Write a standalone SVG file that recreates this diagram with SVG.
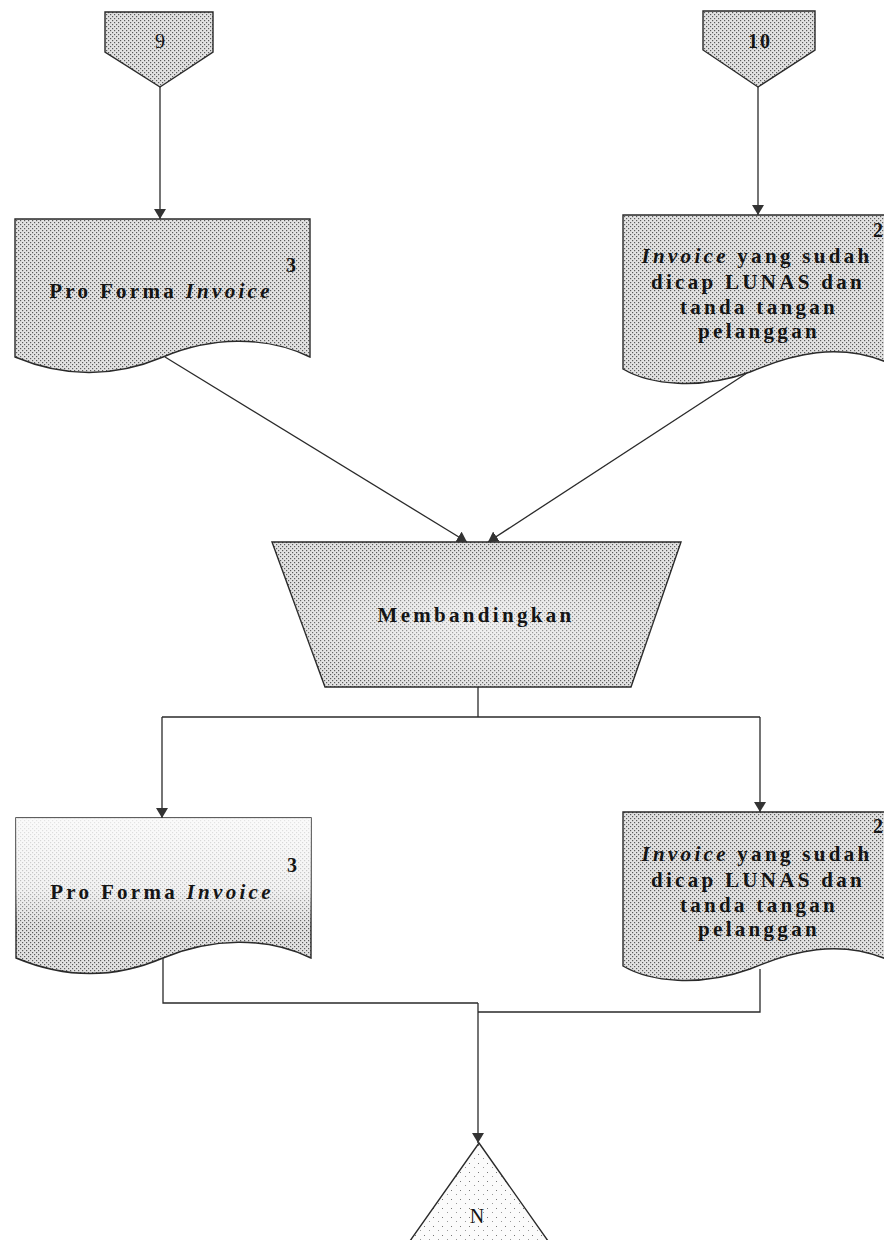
<svg xmlns="http://www.w3.org/2000/svg" width="884" height="1240" viewBox="0 0 884 1240">
  <style>
    .shape { fill: url(#stipple); stroke: #2a2a2a; stroke-width: 1.4; }
    .light { fill: url(#sparse); }
    .wire { fill: none; stroke: #2a2a2a; stroke-width: 1.3; }
    .lbl { font-family: "Liberation Serif", "Times New Roman", serif; font-size: 21px; font-weight: bold; fill: #151515; letter-spacing: 3.3px; }
    .num { font-family: "Liberation Serif", "Times New Roman", serif; font-size: 20px; font-weight: bold; fill: #151515; }
    .plain { font-weight: normal; }
    .it { font-style: italic; }
  </style>
  <defs>
    <!-- halftone grey fill -->
    <pattern id="stipple" width="4" height="4" patternUnits="userSpaceOnUse">
      <rect width="4" height="4" fill="#e2e2e2"/>
      <rect x="0" y="0" width="1.2" height="1.2" fill="#5a5a5a"/>
      <rect x="2" y="2" width="1.2" height="1.2" fill="#5a5a5a"/>
    </pattern>
    <!-- thin scatter of dots -->
    <pattern id="sparse" width="9" height="9" patternUnits="userSpaceOnUse">
      <rect width="9" height="9" fill="#fbfbfb"/>
      <rect x="1" y="2" width="1" height="1" fill="#777"/>
      <rect x="6" y="6" width="1" height="1" fill="#999"/>
    </pattern>
    <linearGradient id="fadeTop" x1="0" y1="0" x2="0" y2="1">
      <stop offset="0" stop-color="#fff" stop-opacity="0.85"/>
      <stop offset="0.45" stop-color="#fff" stop-opacity="0.6"/>
      <stop offset="0.7" stop-color="#fff" stop-opacity="0"/>
    </linearGradient>
    <radialGradient id="fadeMid" cx="0.5" cy="0.55" r="0.5">
      <stop offset="0" stop-color="#fff" stop-opacity="0.55"/>
      <stop offset="1" stop-color="#fff" stop-opacity="0"/>
    </radialGradient>
    <marker id="arrow" viewBox="0 0 10 12" refX="10" refY="6" markerWidth="10" markerHeight="12" markerUnits="userSpaceOnUse" orient="auto">
      <path d="M0,0 L10,6 L0,12 Z" fill="#333"/>
    </marker>
  </defs>

  <!-- off-page connector 9 -->
  <g id="conn9">
    <path class="shape" d="M105,12 H213 V52 L160,87 L105,52 Z"/>
    <text class="num plain" x="160" y="48" text-anchor="middle" font-size="22">9</text>
  </g>

  <!-- off-page connector 10 -->
  <g id="conn10">
    <path class="shape" d="M703,11 H815 V50 L758,87 L703,50 Z"/>
    <text class="num" x="760" y="48" text-anchor="middle" letter-spacing="2">10</text>
  </g>

  <!-- document: Pro Forma Invoice (3) -->
  <g id="doc-proforma-1">
    <path class="shape" d="M15,219 H310 V357 C265,335 210,337 163,357 C120,375 70,380 15,357 Z"/>
    <text class="num" x="291" y="272" text-anchor="middle">3</text>
    <text class="lbl" x="161" y="298" text-anchor="middle">Pro Forma <tspan class="it">Invoice</tspan></text>
  </g>

  <!-- document: paid invoice (2) -->
  <g id="doc-invoice-1">
    <path class="shape" d="M623,215 H893 V365 C840,340 790,355 750,372 C700,390 650,385 623,369 Z"/>
    <text class="num" x="878" y="237" text-anchor="middle">2</text>
    <text class="lbl" x="757" y="263" text-anchor="middle"><tspan class="it">Invoice</tspan> yang sudah</text>
    <text class="lbl" x="758" y="289" text-anchor="middle">dicap LUNAS dan</text>
    <text class="lbl" x="759" y="314" text-anchor="middle">tanda tangan</text>
    <text class="lbl" x="759" y="338" text-anchor="middle">pelanggan</text>
  </g>

  <!-- manual operation: compare -->
  <g id="op-compare">
    <path class="shape" d="M272,542 H681 L631,687 H325 Z"/>
    <path d="M272,542 H681 L631,687 H325 Z" fill="url(#fadeMid)"/>
    <text class="lbl" x="476" y="622" text-anchor="middle">Membandingkan</text>
  </g>

  <!-- document: Pro Forma Invoice (3), filed -->
  <g id="doc-proforma-2">
    <path class="shape" d="M16,818 H311 V958 C266,936 211,938 163,958 C121,976 71,981 16,958 Z"/>
    <path d="M16,818 H311 V958 C266,936 211,938 163,958 C121,976 71,981 16,958 Z" fill="url(#fadeTop)"/>
    <text class="num" x="292" y="872" text-anchor="middle">3</text>
    <text class="lbl" x="162" y="899" text-anchor="middle">Pro Forma <tspan class="it">Invoice</tspan></text>
  </g>

  <!-- document: paid invoice (2), filed -->
  <g id="doc-invoice-2">
    <path class="shape" d="M623,812 H893 V962 C840,937 790,952 750,969 C700,987 650,982 623,966 Z"/>
    <text class="num" x="878" y="833" text-anchor="middle">2</text>
    <text class="lbl" x="757" y="861" text-anchor="middle"><tspan class="it">Invoice</tspan> yang sudah</text>
    <text class="lbl" x="758" y="887" text-anchor="middle">dicap LUNAS dan</text>
    <text class="lbl" x="759" y="912" text-anchor="middle">tanda tangan</text>
    <text class="lbl" x="759" y="936" text-anchor="middle">pelanggan</text>
  </g>

  <!-- file: N -->
  <g id="file-n">
    <path class="shape light" d="M479,1143 L565,1265 H393 Z"/>
    <text class="num plain" x="477" y="1223" text-anchor="middle" font-size="22">N</text>
  </g>

  <!-- flow lines -->
  <g id="connectors">
    <line class="wire" x1="160" y1="87" x2="160" y2="219" marker-end="url(#arrow)"/>
    <line class="wire" x1="758" y1="87" x2="758" y2="215" marker-end="url(#arrow)"/>
    <line class="wire" x1="165" y1="357" x2="467" y2="542" marker-end="url(#arrow)"/>
    <line class="wire" x1="747" y1="373" x2="488" y2="542" marker-end="url(#arrow)"/>
    <polyline class="wire" points="478,687 478,717"/>
    <polyline class="wire" points="162,717 760,717"/>
    <line class="wire" x1="162" y1="717" x2="162" y2="818" marker-end="url(#arrow)"/>
    <line class="wire" x1="760" y1="717" x2="760" y2="812" marker-end="url(#arrow)"/>
    <polyline class="wire" points="163,958 163,1003 478,1003"/>
    <polyline class="wire" points="760,969 760,1012 478,1012"/>
    <line class="wire" x1="478" y1="1003" x2="478" y2="1143" marker-end="url(#arrow)"/>
  </g>
</svg>
